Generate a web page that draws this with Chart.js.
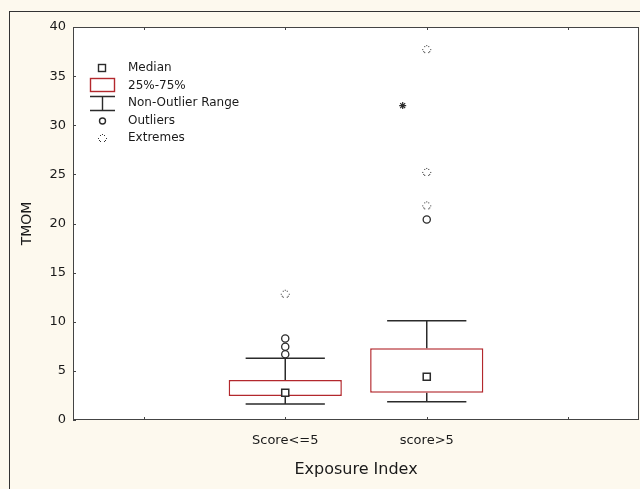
<!DOCTYPE html>
<html>
<head>
<meta charset="utf-8">
<script src="https://cdn.jsdelivr.net/npm/chart.js@4/dist/chart.umd.min.js"></script>
<style>
  html, body { margin: 0; padding: 0; background: #fdf9ee; }
  #wrap { width: 640px; height: 489px; }
</style>
</head>
<body>
<div id="wrap"><canvas id="MyChart" width="640" height="489"></canvas></div>
<script>
// categories on the x axis (first and last are empty slots)
const categories = ['', 'Score<=5', 'score>5', ''];
const groupX = [2, 3];

// box plot statistics per group
const q1 = [2.44, 2.78];
const q3 = [4.07, 7.3];
const medians = [2.78, 4.41];
const whiskerLow = [1.63, 1.87];
const whiskerHigh = [6.28, 10.1];
const outliers = [[6.69, 7.46, 8.3], [20.4]];
const extremes = [[12.8], [21.8, 25.2, 37.7]];
const asterisk = { x: 2.83, y: 32.0 };

const yTicks = [0, 5, 10, 15, 20, 25, 30, 35, 40];

const CAP = 0.28;
const INK = '#2b2b2b';
const BOXRED = '#b3282d';
const FONT = 'DejaVu Sans';

function dottedMark() {
  const c = document.createElement('canvas');
  c.width = 11; c.height = 11;
  const g = c.getContext('2d');
  g.fillStyle = '#333';
  for (let i = 0; i < 12; i++) {
    if (i % 4 === 3) continue;
    const a = i / 12 * Math.PI * 2;
    g.fillRect(Math.round(5 + 4 * Math.cos(a)), Math.round(5 + 4 * Math.sin(a)), 1, 1);
  }
  return c;
}
const dots = dottedMark();

function whiskerPoints() {
  const pts = [];
  groupX.forEach((x, i) => {
    pts.push({ x: x, y: q3[i] }, { x: x, y: whiskerHigh[i] }, { x: x, y: null });
    pts.push({ x: x - CAP, y: whiskerHigh[i] }, { x: x + CAP, y: whiskerHigh[i] }, { x: x, y: null });
    pts.push({ x: x, y: q1[i] }, { x: x, y: whiskerLow[i] }, { x: x, y: null });
    pts.push({ x: x - CAP, y: whiskerLow[i] }, { x: x + CAP, y: whiskerLow[i] }, { x: x, y: null });
  });
  return pts;
}

function spread(list) {
  const pts = [];
  list.forEach((vals, i) => vals.forEach(v => pts.push({ x: groupX[i], y: v })));
  return pts;
}

const frame = {
  id: 'frame',
  beforeDraw(chart) {
    const c = chart.ctx, a = chart.chartArea;
    c.save();
    c.fillStyle = '#fdf9ee';
    c.fillRect(0, 0, chart.width, chart.height);
    c.strokeStyle = '#333';
    c.lineWidth = 1;
    c.strokeRect(9.5, 11.5, chart.width, chart.height);
    c.fillStyle = '#fff';
    c.fillRect(a.left, a.top, a.right - a.left, a.bottom - a.top);
    c.restore();
  },
  afterDatasetsDraw(chart) {
    const c = chart.ctx, a = chart.chartArea;
    const xs = chart.scales.x, ys = chart.scales.y;
    c.save();
    c.strokeStyle = '#444';
    c.lineWidth = 1;
    c.strokeRect(Math.round(a.left) + 0.5, Math.round(a.top) + 0.5, Math.round(a.right - a.left) - 1, Math.round(a.bottom - a.top) - 1);
    c.beginPath();
    categories.forEach((lab, i) => {
      const px = Math.round(xs.getPixelForValue(i + 1)) + 0.5;
      c.moveTo(px, a.top); c.lineTo(px, a.top + 3);
      c.moveTo(px, a.bottom); c.lineTo(px, a.bottom - 3);
    });
    yTicks.forEach(v => {
      const py = Math.round(ys.getPixelForValue(v)) + 0.5;
      c.moveTo(a.left, py); c.lineTo(a.left + 3, py);
    });
    c.stroke();

    // legend
    c.fillStyle = '#fff';
    c.strokeStyle = INK;
    c.lineWidth = 1.4;
    c.fillRect(98.5, 64.5, 7, 7);
    c.strokeRect(98.5, 64.5, 7, 7);
    c.strokeStyle = BOXRED;
    c.strokeRect(90.5, 78.5, 24, 13);
    c.strokeStyle = INK;
    c.beginPath();
    c.moveTo(90, 96.5); c.lineTo(115, 96.5);
    c.moveTo(90, 110.5); c.lineTo(115, 110.5);
    c.moveTo(102.5, 96.5); c.lineTo(102.5, 110.5);
    c.stroke();
    c.beginPath();
    c.arc(102.5, 121, 3, 0, Math.PI * 2);
    c.stroke();
    c.drawImage(dots, 97, 133);
    c.fillStyle = '#1a1a1a';
    c.font = '12px "' + FONT + '"';
    c.textBaseline = 'middle';
    c.textAlign = 'left';
    const names = ['Median', '25%-75%', 'Non-Outlier Range', 'Outliers', 'Extremes'];
    const ly = [68, 86, 103, 121, 138];
    names.forEach((n, i) => c.fillText(n, 128, ly[i]));
    c.restore();
  }
};

const ctx = document.getElementById('MyChart').getContext('2d');
const myChart = new Chart(ctx, {
  type: 'bar',
  data: {
    datasets: [
      {
        type: 'line',
        label: 'Non-Outlier Range',
        data: whiskerPoints(),
        borderColor: INK,
        borderWidth: 1.5,
        pointRadius: 0,
        spanGaps: false,
        order: 2
      },
      {
        label: '25%-75%',
        data: groupX.map((x, i) => ({ x: x, y: [q1[i], q3[i]] })),
        backgroundColor: 'rgba(255,255,255,1)',
        borderColor: BOXRED,
        borderWidth: 1.5,
        borderSkipped: false,
        barPercentage: 0.8,
        categoryPercentage: 1,
        order: 1
      },
      {
        type: 'scatter',
        label: 'Median',
        data: groupX.map((x, i) => ({ x: x, y: medians[i] })),
        pointStyle: 'rect',
        pointRadius: 5,
        backgroundColor: '#fff',
        borderColor: INK,
        borderWidth: 1.5,
        order: 0
      },
      {
        type: 'scatter',
        label: 'Outliers',
        data: spread(outliers),
        pointStyle: 'circle',
        pointRadius: 3.6,
        backgroundColor: '#fff',
        borderColor: INK,
        borderWidth: 1.3,
        order: 0
      },
      {
        type: 'scatter',
        label: 'Extremes',
        data: spread(extremes),
        pointStyle: dots,
        order: 0
      },
      {
        type: 'scatter',
        label: '*',
        data: [asterisk],
        pointStyle: 'star',
        pointRadius: 3.5,
        borderColor: INK,
        borderWidth: 1.2,
        order: 0
      }
    ]
  },
  options: {
    responsive: false,
    animation: false,
    layout: { autoPadding: false, padding: { top: 27, right: 1, left: 0, bottom: 0 } },
    plugins: { legend: { display: false }, tooltip: { enabled: false } },
    scales: {
      x: {
        type: 'linear',
        min: 0.5,
        max: 4.5,
        offset: false,
        grid: { display: false, drawTicks: false },
        border: { display: false },
        afterBuildTicks: s => { s.ticks = categories.map((c, i) => ({ value: i + 1 })); },
        afterFit: s => { s.height = 69; },
        ticks: {
          autoSkip: false,
          maxRotation: 0,
          padding: 13,
          color: '#1a1a1a',
          font: { family: FONT, size: 13 },
          callback: v => categories[v - 1]
        },
        title: {
          display: true,
          text: 'Exposure Index',
          color: '#1a1a1a',
          font: { family: FONT, size: 16 },
          padding: { top: 0, bottom: 10 }
        }
      },
      y: {
        min: 0,
        max: 40,
        grid: { display: false, drawTicks: false },
        border: { display: false },
        afterFit: s => { s.width = 73; },
        ticks: {
          stepSize: 5,
          padding: 7,
          color: '#1a1a1a',
          font: { family: FONT, size: 13 }
        },
        title: {
          display: true,
          text: 'TMOM',
          color: '#1a1a1a',
          font: { family: FONT, size: 14 },
          padding: { top: 19, bottom: 0 }
        }
      }
    }
  },
  plugins: [frame]
});
</script>
</body>
</html>
